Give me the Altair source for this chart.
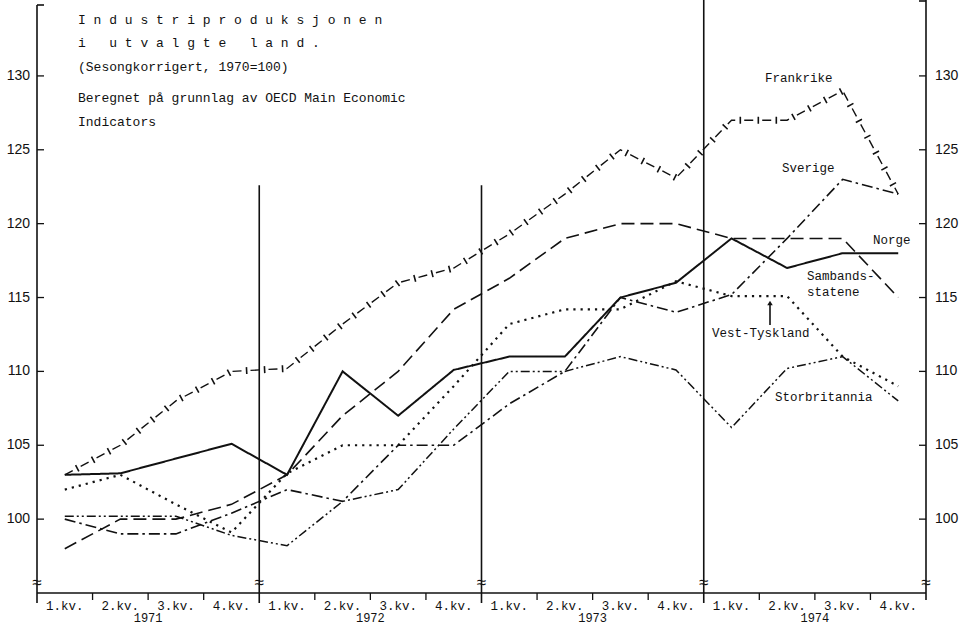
import altair as alt
import pandas as pd

# ---------------- data ----------------
kvartal = ["1.kv.", "2.kv.", "3.kv.", "4.kv."]
aar = ["1971", "1972", "1973", "1974"]
y_ticks = [100, 105, 110, 115, 120, 125, 130]

norge = [103, 103.1, 104.1, 105.1, 103, 110, 107, 110.1, 111, 111, 115, 116, 119, 117, 118, 118]
frankrike = [103, 105, 108, 110, 110.2, 113.2, 116, 117, 119.3, 122, 125, 123.1, 127, 127, 129, 122]
sambandsstatene = [98, 100, 100, 101, 103, 107, 110, 114.2, 116.3, 119, 120, 120, 119, 119, 119, 115]
sverige = [100, 99, 99, 100.4, 102, 101.2, 105, 105, 107.8, 110, 115, 114, 115.2, 119, 123, 122]
vest_tyskland = [102, 103, 101, 99.1, 103.1, 105, 105, 109, 113.2, 114.2, 114.2, 116.1, 115.1, 115.1, 111, 109]
storbritannia = [100.2, 100.2, 100.2, 98.9, 98.2, 101.2, 102, 106.1, 110, 110, 111, 110.1, 106.2, 110.2, 111, 108]

series = {
    "Norge": norge,
    "Frankrike": frankrike,
    "Sambandsstatene": sambandsstatene,
    "Sverige": sverige,
    "Vest-Tyskland": vest_tyskland,
    "Storbritannia": storbritannia,
}

styles = {
    "Norge": dict(strokeDash=[1, 0], strokeWidth=2.0),
    "Frankrike": dict(strokeDash=[9, 9], strokeWidth=1.4),
    "Sambandsstatene": dict(strokeDash=[13, 6], strokeWidth=1.6),
    "Sverige": dict(strokeDash=[11, 4, 2.5, 4], strokeWidth=1.6),
    "Vest-Tyskland": dict(strokeDash=[2.2, 5], strokeWidth=2.2),
    "Storbritannia": dict(strokeDash=[9, 3, 2, 3, 2, 3], strokeWidth=1.5),
}

rows = []
for name, vals in series.items():
    for i, v in enumerate(vals):
        rows.append({"land": name, "q": i + 0.5, "verdi": v})
df = pd.DataFrame(rows)

W, H = 889, 588
YMIN, YMAX = 95, 134.8
INK = "#111111"
MONO = "Liberation Mono"
SANS = "Liberation Sans"

xs = alt.Scale(domain=[0, 16], nice=False, zero=False)
ys = alt.Scale(domain=[YMIN, YMAX], nice=False, zero=False)

layers = []

# ---------------- series lines ----------------
for name in series:
    layers.append(
        alt.Chart(df)
        .transform_filter(alt.datum.land == name)
        .mark_line(color=INK, strokeJoin="miter", **styles[name])
        .encode(
            x=alt.X("q:Q", scale=xs, axis=None),
            y=alt.Y("verdi:Q", scale=ys, axis=None),
        )
    )

# cross marks along the Frankrike line
layers.append(
    alt.Chart(df)
    .transform_filter(alt.datum.land == "Frankrike")
    .mark_line(color=INK, strokeDash=[1.6, 16.4], strokeDashOffset=4.7, strokeWidth=7)
    .encode(x=alt.X("q:Q", scale=xs, axis=None), y=alt.Y("verdi:Q", scale=ys, axis=None))
)

# ---------------- axes frame ----------------
one = pd.DataFrame({"a": [0]})

def rule(**enc):
    return alt.Chart(one).mark_rule(color=INK, strokeWidth=1.6).encode(**enc)

layers.append(rule(x=alt.value(0), y=alt.value(0), y2=alt.value(H + 10)))          # left axis
layers.append(rule(x=alt.value(W), y=alt.value(-5), y2=alt.value(H + 7)))          # right axis
layers.append(rule(x=alt.value(0), x2=alt.value(W), y=alt.value(H)))              # bottom axis
layers.append(rule(x=alt.value(0), x2=alt.value(7), y=alt.value(0)))              # top-left tick
layers.append(rule(x=alt.value(W - 7), x2=alt.value(W), y=alt.value(-4)))         # top-right tick

tick_df = pd.DataFrame({"v": y_ticks})
layers.append(
    alt.Chart(tick_df).mark_rule(color=INK, strokeWidth=1.3).encode(
        y=alt.Y("v:Q", scale=ys, axis=None), x=alt.value(0), x2=alt.value(7))
)
layers.append(
    alt.Chart(tick_df).mark_rule(color=INK, strokeWidth=1.3).encode(
        y=alt.Y("v:Q", scale=ys, axis=None), x=alt.value(W - 7), x2=alt.value(W))
)
layers.append(
    alt.Chart(tick_df).mark_text(font=SANS, fontSize=14, align="right", baseline="middle", color=INK)
    .encode(y=alt.Y("v:Q", scale=ys, axis=None), x=alt.value(-7), text="v:Q")
)
layers.append(
    alt.Chart(tick_df).mark_text(font=SANS, fontSize=14, align="left", baseline="middle", color=INK)
    .encode(y=alt.Y("v:Q", scale=ys, axis=None), x=alt.value(W + 9), text="v:Q")
)

# quarter boundary ticks
n_q = len(aar) * len(kvartal)
qb = pd.DataFrame({"b": [b for b in range(1, n_q) if b % 4 != 0]})
layers.append(
    alt.Chart(qb).mark_rule(color=INK, strokeWidth=1.3).encode(
        x=alt.X("b:Q", scale=xs, axis=None), y=alt.value(H), y2=alt.value(H + 7))
)

# year separator lines
yb_short = pd.DataFrame({"b": [4, 8]})
layers.append(
    alt.Chart(yb_short).mark_rule(color=INK, strokeWidth=1.6).encode(
        x=alt.X("b:Q", scale=xs, axis=None),
        y=alt.datum(122.6, scale=ys),
        y2=alt.value(H + 10))
)
yb_long = pd.DataFrame({"b": [12]})
layers.append(
    alt.Chart(yb_long).mark_rule(color=INK, strokeWidth=1.6).encode(
        x=alt.X("b:Q", scale=xs, axis=None), y=alt.value(-5), y2=alt.value(H + 10))
)

# axis break marks
brk = pd.DataFrame({"b": [0, 4, 8, 12, 16], "t": ["≈"] * 5})
layers.append(
    alt.Chart(brk).mark_text(font=SANS, fontSize=17, color=INK, baseline="middle")
    .encode(x=alt.X("b:Q", scale=xs, axis=None), y=alt.value(H - 10), text="t:N")
)

# x labels
ql = pd.DataFrame({"q": [i + 0.5 for i in range(n_q)], "t": [kvartal[i % 4] for i in range(n_q)]})
layers.append(
    alt.Chart(ql).mark_text(font=MONO, fontSize=12.5, color=INK, baseline="middle")
    .encode(x=alt.X("q:Q", scale=xs, axis=None), y=alt.value(H + 13), text="t:N")
)
yl = pd.DataFrame({"q": [4 * k + 2 for k in range(len(aar))], "t": aar})
layers.append(
    alt.Chart(yl).mark_text(font=MONO, fontSize=12, color=INK, baseline="middle")
    .encode(x=alt.X("q:Q", scale=xs, axis=None), y=alt.value(H + 25), text="t:N")
)

# ---------------- annotations ----------------
NB = "\u00a0"
title_lines = [
    (NB.join("Industriproduksjonen"), 15),
    ("i" + NB * 3 + NB.join("utvalgte") + NB * 3 + NB.join("land."), 38),
    ("(Sesongkorrigert, 1970=100)", 62),
    ("Beregnet på grunnlag av OECD Main Economic", 93),
    ("Indicators", 117),
]

def note(text, x, y, size=13, align="left"):
    return alt.Chart(pd.DataFrame({"t": [text]})).mark_text(
        font=MONO, fontSize=size, align=align, baseline="middle", color=INK
    ).encode(x=alt.value(x), y=alt.value(y), text="t:N")

for t, yy in title_lines:
    layers.append(note(t, 41, yy))

labels = [
    ("Frankrike", 728, 73),
    ("Sverige", 745, 163),
    ("Norge", 836, 235),
    ("Sambands-", 770, 271),
    ("statene", 770, 287),
    ("Vest-Tyskland", 675, 328),
    ("Storbritannia", 738, 392),
]
for t, xx, yy in labels:
    layers.append(note(t, xx, yy, size=12.5))

# arrow to Vest-Tyskland
layers.append(rule(x=alt.value(733), y=alt.value(298), y2=alt.value(320)))
layers.append(
    alt.Chart(one).mark_point(shape="triangle-up", filled=True, color=INK, size=30, opacity=1)
    .encode(x=alt.value(733), y=alt.value(298))
)

chart = (
    alt.layer(*layers)
    .properties(
        width=W,
        height=H,
        autosize=alt.AutoSizeParams(type="none"),
        padding={"left": 37, "top": 5, "right": 34, "bottom": 34},
        background="white",
    )
    .configure_view(strokeWidth=0)
)

chart.save("out.html", embed_options={"renderer": "svg", "actions": False})
